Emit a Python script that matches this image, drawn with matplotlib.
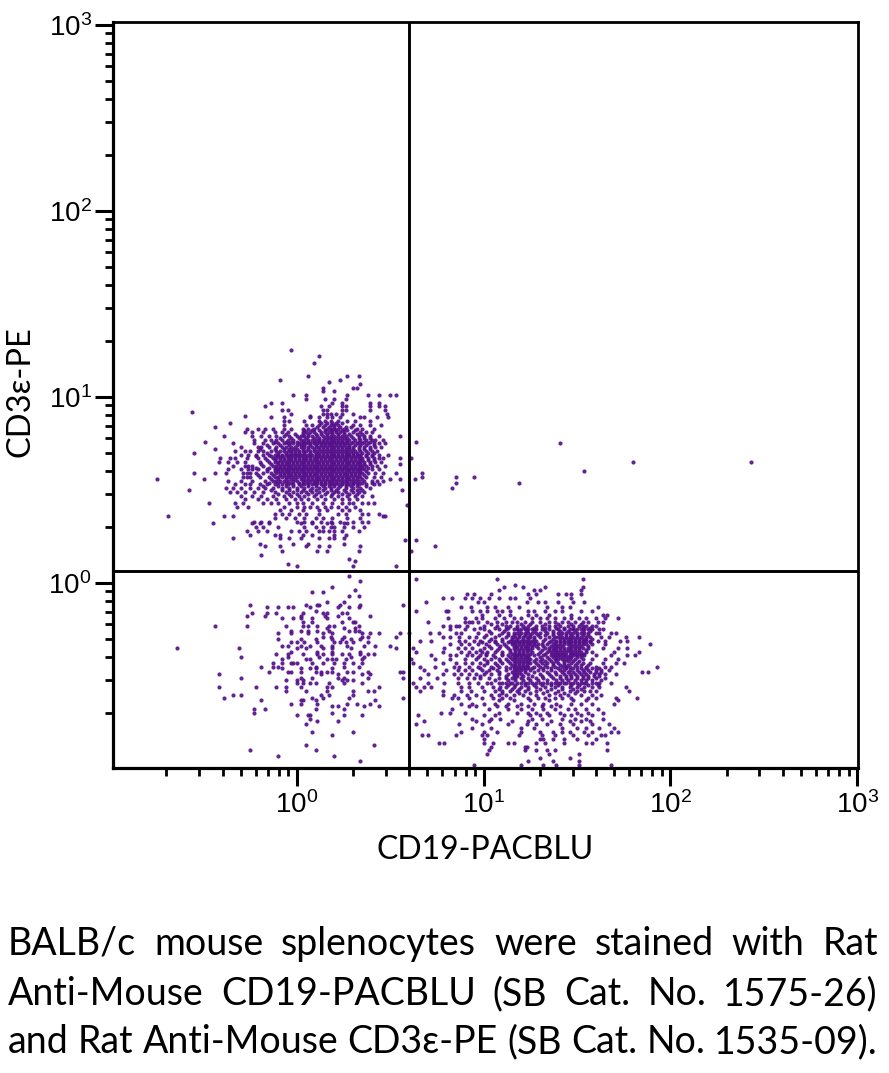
import matplotlib
matplotlib.use("Agg")
import matplotlib.pyplot as plt
from matplotlib.ticker import FixedLocator, NullFormatter

# All event values are in hundredths of a log10 decade: value = 10 ** (v / 100)
# Each row is {CD3e level: [CD19 levels]}
tcell_rows = {
125:[-3],122:[12],118:[9],111:[6,27,33],109:[-9,23],108:[17],107:[34],105:[14,30,32],103:[20,14],
101:[-2,5,27,38,44,50,53],99:[5,15,20,26],97:[-14,-8,19,24,39,44],95:[-17,13,17,24,26,39,44,47],
93:[-8,-5,14,16,24,26,39,47],92:[-56],91:[-3,14,16,18,21,24,30,48],90:[-28,7],
89:[-14,-7,7,12,16,19,23,34,36,43,49],87:[-7,-4,4,12,15,18,22,27,31,39],86:[-36],
85:[-7,5,8,12,15,18,20,22,30,34,39,45],84:[-44],
83:[-27,-21,-17,-13,-7,-3,3,6,9,16,18,20,22,25,32,35,41],
81:[-28,-24,-18,-12,-8,-5,3,5,7,9,13,15,17,19,21,23,25,30,34,37,40],
79:[-39,-24,-19,-15,-11,-7,-4,0,2,4,6,8,11,14,16,18,20,22,24,26,29,33,36,39,44,55],
77:[-23,-17,-14,-11,-8,-5,-2,2,4,6,8,10,12,14,16,18,20,22,24,26,28,31,34,37,40,42,46],
76:[-49,64],
75:[-34,-23,-18,-13,-10,-7,-5,-2,1,3,5,7,9,11,13,15,17,19,21,23,25,27,29,32,35,38,41,44,47],
73:[-30,-21,-19,-15,-11,-8,-6,-3,-1,2,4,6,8,10,12,14,16,18,20,22,24,26,28,30,33,36,39,42,45],
72:[-44],
71:[-33,-28,-25,-21,-18,-14,-11,-9,-7,-5,-3,-1,1,3,5,7,9,11,13,15,17,19,21,23,25,27,29,31,34,37,40,43],
70:[-55],
69:[-30,-26,-22,-18,-15,-12,-10,-8,-6,-4,-2,0,2,4,6,8,10,12,14,16,18,20,22,24,26,28,30,32,34,37,40,44,49],
67:[-41,-36,-33,-27,-21,-17,-13,-11,-9,-7,-5,-3,-1,1,3,5,7,9,11,13,15,17,19,21,23,25,27,29,31,33,35,38,41,44,46,55,61],
65:[-42,-37,-32,-28,-20,-15,-12,-10,-8,-6,-4,-2,0,2,4,6,8,10,12,14,16,18,20,22,24,26,28,30,32,34,36,39,42,45],
64:[55],
63:[-34,-28,-26,-24,-18,-13,-11,-9,-7,-5,-3,-1,1,3,5,7,9,11,13,15,17,19,21,23,25,27,29,31,33,35,37,40,43,47],
61:[-37,-30,-26,-24,-21,-16,-12,-10,-8,-6,-4,-2,0,2,4,6,8,10,12,14,16,18,20,22,24,26,28,30,32,34,36,40,44],
59:[-55,-44,-38,-29,-27,-25,-22,-18,-14,-11,-9,-7,-5,-3,-1,1,3,5,7,9,11,13,15,17,19,21,23,25,27,29,31,33,35,38,42,46,53],
57:[-29,-27,-25,-20,-15,-12,-10,-8,-6,-4,-2,0,2,4,6,8,10,12,14,16,18,20,22,24,26,28,30,32,34,37,41,45],
56:[-50,-75,50,55,63],
55:[-37,-30,-24,-17,-13,-11,-9,-7,-5,-2,0,3,5,7,9,11,13,15,17,19,21,23,25,27,29,31,33,36,40,43,46],
53:[-33,-28,-25,-20,-16,-12,-8,-5,-2,1,4,6,8,10,13,15,18,20,22,24,26,28,30,33,37,41,44],
51:[-38,-34,-30,-25,-21,-17,-13,-8,-4,0,4,8,12,15,18,22,26,30,34,39],
50:[-58,56],
49:[-36,-32,-28,-23,-18,-12,-6,-2,2,5,8,12,16,20,22,26,30,33,36],
47:[-30,-24,-19,-13,-7,-3,1,4,9,13,18,22,27,31,35,40],
45:[-28,-21,-16,-11,-6,-1,2,6,11,15,20,24,28,32],
43:[-47,-33,-29,-18,-14,-10,-4,0,3,8,14,19,24,28,30,35,38,41],
42:[59],
41:[-32,-26,-7,0,4,7,11,15,18,22,26,31],
39:[-9,-3,3,12,16,24,28,34],
37:[-12,-8,-4,1,5,12,22,26,35,38,44],
36:[-69,-39,-34,46,47],
35:[-12,-6,-1,4,10,14,19,27,34],
33:[-23,-19,-15,0,4,8,13,18,23,30,35,38],
32:[-45,-24,-20,-15,2,8,16,19,25,27],
30:[-22,-18,-10,4,10,14,18,20,25,30,36],
28:[-27,-21,-16,-3,1,5,12,14,17,20,24,33],
26:[-25,-12,-9,3,8,20,26],
24:[-34,-9,-4,2,12,17,20,25],
23:[58,64],21:[-20,-2,6,25],20:[-17,-9,5,12,17,34],17:[-8,11,16,33,61],15:[-19],13:[28],12:[31],10:[-5],
9:[0,30,53],4:[28],1:[34],
}
# the dense core of the CD3+ population, between the rows above
tcell_core_rows = {
86:[13,16,19,21,24],84:[11,14,17,20,23,26,29],82:[4,8,12,15,18,21,24,27,31],
80:[-6,-1,3,6,10,13,16,19,22,25,28,32,35],78:[-9,-3,1,5,9,12,15,17,19,21,23,25,27,30,33,36,39],
76:[-12,-6,-3,0,3,6,9,12,14,16,18,20,22,24,27,30,33,36,39],
74:[-16,-9,-4,0,2,4,7,10,13,15,17,19,21,23,25,28,31,34,37,41],
72:[-20,-12,-7,-4,-2,0,3,6,9,12,14,16,18,20,22,24,26,28,30,33,36,39],
70:[-16,-10,-6,-3,-1,1,4,7,10,12,14,16,18,20,22,24,26,28,30,32,35,38,41],
68:[-22,-14,-10,-8,-5,-3,-1,1,3,5,7,10,12,14,16,18,20,22,24,26,28,30,32,34,37,40],
66:[-16,-12,-9,-7,-5,-3,-1,1,3,5,7,9,11,13,15,17,19,21,23,25,27,29,31,33,35,38,41],
64:[-19,-14,-10,-8,-6,-4,-2,0,2,4,6,8,10,12,14,16,18,20,22,24,26,28,30,32,34,36,39],
62:[-22,-15,-11,-9,-7,-5,-3,-1,1,3,5,7,9,11,13,15,17,19,21,23,25,27,29,31,33,35,38],
60:[-16,-12,-10,-8,-6,-4,-2,0,2,4,6,8,10,12,14,16,18,20,22,24,26,28,30,32,34,37],
58:[-21,-13,-9,-7,-5,-3,-1,1,3,5,7,9,11,13,15,17,19,21,23,25,27,29,31,33,36],
56:[-14,-10,-6,-3,-1,2,4,6,8,10,12,14,16,18,20,22,24,26,28,30,32,35],
54:[-15,-10,-6,-3,1,3,6,9,11,13,15,17,19,21,24,27,30,32,35,40],
52:[-18,-10,-6,-2,2,6,10,14,17,20,23,26,29,32,37],
50:[-14,-8,-4,0,3,7,10,14,18,21,25,29,32,35],
48:[-10,-4,0,6,10,15,19,24,28,32],
}
bcell_rows = {
2:[64,107,153],-1:[117],-2:[19,111,121,133,153],-4:[31,108,127,130,152],-5:[8,14],
-6:[91,95,104,124,128,140,144,147,152],-7:[28,33],
-8:[78,83,90,94,98,103,108,114,117,125,147],
-10:[16,25,69,97,100,123,129,133,140,148,154],
-12:[-25,5,11,12,23,34,57],
-13:[-16,-10,-5,-2,7,22,28,33,88,93,102,106,113,119,134,142,146,161],
-15:[10,64,80,81,94,98,102,107,110,114,124,127,133,138,142,152,158],
-16:[-24,-16,-11,3,14,16,24,27],
-17:[99,108,114,124,128,135,147,164,166],
-18:[-27,-17,2,15,22,39],
-19:[-8,-2,2,8,16,28,81,90,96,99,106,111,116,120,126,130,134,138,143,147,151,155,160,165,172],
-21:[3,8,24,30,31,70,90,92,94,97,102,107,112,115,118,122,126,130,135,138,142,145,149,153,156,161,164],
-23:[-44,-27,-6,3,6,11,17,20,33,78,82,85,87,91,100,107,112,114,118,121,124,128,131,135,138,141,145,148,151,153,155,158,160],
-24:[16,25,31],
-25:[82,90,95,100,108,112,116,118,120,122,124,126,128,131,135,140,143,146,148,150,152,154,156,158,162,164],
-26:[-3,2,6,11,17,28,31,33],
-27:[-10,-3,6,14,19,35,39,44,55,60,71,76,85,88,97,104,110,113,116,118,120,122,124,126,128,130,134,137,140,142,144,146,148,150,152,154,156,160,162,168,171],
-29:[14,18,25,35,38,53,78,82,87,92,96,100,106,112,115,117,119,121,123,125,127,130,135,138,140,142,144,146,148,150,152,155,157,163,167,176,183],
-30:[-10,2,10,24,19,29,34],
-31:[66,72,87,90,95,98,103,106,110,114,116,118,120,122,124,126,128,132,136,139,141,143,145,147,149,151,153,155,157,161,165,173,177],
-32:[-3,0,4,11,20,23,26,30,38],
-33:[82,88,92,97,101,107,111,115,117,119,121,123,125,127,129,131,134,137,139,141,143,145,147,149,151,153,155,158,165,189],
-34:[-8,-5,2,7,13,19,27,36,42,50],
-35:[-64,-31,0,5,14,19,29,53,62,79,86,90,94,100,104,108,113,116,118,120,122,124,126,129,133,135,137,139,141,143,145,147,149,151,153,156,164,172,177],
-37:[-3,11,19,34,64,78,88,92,96,99,102,106,110,114,117,119,121,123,126,130,134,136,138,140,142,144,146,148,150,152,155,158,170,183],
-38:[-11,-5,3,11,14,19,24,28,34,38,41],
-39:[72,82,85,91,94,98,101,105,110,113,116,118,120,122,124,127,132,136,138,140,142,144,146,148,150,152,154,160,168,177,181],
-40:[-30,-5,12,29,36],
-41:[-8,5,7,16,19,21,26,35,61,74,82,90,96,100,104,108,112,115,117,119,121,123,125,128,131,135,138,140,142,144,146,149,153,158,165,172],
-43:[-13,-8,-3,-2,0,8,14,20,25,30,35,62,78,85,90,94,98,102,106,110,114,117,119,121,123,125,128,131,134,137,140,143,147,150,153,157,164,171,175],
-45:[-19,-13,-10,10,25,33,66,74,84,87,92,97,104,108,112,116,118,120,122,124,127,130,134,138,142,144,146,150,155,160,165,168,193],
-46:[-8,2,7,10,19],
-47:[68,80,86,90,94,99,103,107,112,116,118,120,122,125,129,132,136,141,143,146,150,153,156,160,163,167],
-48:[-15,-5,-3,2,10,13,16,19,27,30,38,55,57,185,188],
-49:[-42,13,22,35,39,70,78,84,88,92,96,100,104,108,113,116,118,120,124,130,135,139,143,146,149,152,155,159,162,165,171],
-51:[-30,2,8,22,25,38,57,66,75,86,91,95,98,103,108,112,115,117,120,124,128,132,137,141,144,147,150,153,156,160,165],
-52:[-6,0,3,24,27,30],
-54:[0,3,7,10,17,25,35,62,70,79,86,92,97,102,108,112,115,118,122,126,130,134,138,141,144,148,152,155,158,162,168],
-56:[-42,-22,-11,-6,2,16,19,44,64,68,72,88,92,99,105,109,112,116,120,124,128,133,138,142,146,150,154,158,162,176],
-58:[-6,5,16,30,38,41,66,78,88,93,100,106,110,114,118,122,128,134,140,146,150,154,157,160,178],
-60:[-34,-30,13,17,30,78,84,91,96,104,108,112,116,121,128,135,141,145,152,158,163],
-62:[-39,8,14,28,57,83,86,92,99,105,110,114,124,129,133,138,142,147,156,160,171,182],
-63:[-19,2,3,10,42,108,116,125,135,148,155,172],
-65:[-3,2,11,27,32,39,88,94,100,106,113,120,127,132,139,147,152,158,170],
-66:[19,22,36,44,92,96,107,112,118,124,131,136,141],
-68:[-23,-17,10,25,83,103,113,120,126,132,138,145,149,155,161],
-70:[-23,19,77,82,90,108,118,124,128,134,141,150,156,164],
-71:[0,6,7,25,35,65,100,106,125,130,135,143,147,152,158],
-73:[7,94,104,109,126,131,142,149,155,164],
-74:[11,22,68,96,103,115,124,136,146,152,157],
-76:[5,64,87,99,113,123,128,134,141,148,158,167],
-78:[94,104,120,127,142,150,155,162,170],
-80:[8,30,88,100,107,120,130,137,142,146,154,158,168,172],
-82:[19,67,70,85,99,102,119,131,138,148,156,165,163],
-84:[100,130,132,137,143,150,160],
-86:[76,79,100,105,113,116,128,133,143,155,158,166],
-87:[5,41],
-88:[104,122,123],
-90:[-25,10,103,122,128,134,138,166],
-92:[102,135,151],
-93:[-10,20],
-94:[130,146],
-96:[34,124,137,151],
-98:[95,120,132,139,151,168],
}
# the dense core of the CD19+ population, between the rows above
bcell_core_rows = {
-22:[104,110,120,125,133,140,147,152],
-24:[98,106,113,118,122,127,133,139,143,148,153,157],
-26:[103,111,119,123,127,133,137,141,145,149,153,157],
-28:[101,108,113,116,119,122,125,129,133,137,141,144,147,150,153,156],
-30:[104,110,115,118,121,124,127,133,137,141,143,145,147,149,151,153,155,158],
-32:[99,106,113,115,117,119,121,123,125,127,135,138,141,143,145,147,149,151,153,157],
-34:[103,109,112,116,118,120,122,124,126,128,132,136,138,140,142,146,148,150,152,156],
-36:[98,107,114,117,119,121,123,125,131,135,137,139,141,143,145,147,149,151,155],
-38:[101,110,115,117,119,121,125,129,133,137,139,141,143,147,149,151,153],
-40:[97,106,114,116,118,120,122,124,130,134,137,139,141,143,145,147,150,152],
-42:[102,109,113,116,118,120,122,124,127,130,133,136,139,143,145,148,151],
-44:[100,107,115,117,119,121,123,129,133,137,141,143,145,149,152,156],
-46:[98,105,114,117,119,121,123,126,132,136,140,144,148,152,155,158,162],
-48:[101,108,115,117,119,122,127,134,138,142,145,148,151,154,157,160,163],
-50:[98,112,116,118,121,126,131,136,141,144,147,150,153,156,159,162],
-52:[106,113,117,121,125,129,134,139,142,145,149,152,155,158,163],
-54:[104,110,114,120,124,128,132,136,140,143,146,150,154,160],
-55:[113,117,122,127,131,136,140,147,151,156,161],
-57:[108,115,119,124,130,136,142,148,152],
-59:[110,119,125,132,138,143,149],
}
# events around the gate crossing and in the upper right quadrant
upper_right_x = [67,67,85,85,83,95,119,74,141,154,180,243]
upper_right_y = [59,57,57,54,51,57,54,20,75,60,65,65]

x_gate = 3.98
y_gate = 1.16
x_label = "CD19-PACBLU"
y_label = "CD3\u03b5-PE"
caption = [
    "BALB/c mouse splenocytes were stained with Rat",
    "Anti-Mouse CD19-PACBLU (SB Cat. No. 1575-26)",
    "and Rat Anti-Mouse CD3\u03b5-PE (SB Cat. No. 1535-09).",
]
major_ticks = [1, 10, 100, 1000]
major_labels = ["$\\mathregular{10^{0}}$", "$\\mathregular{10^{1}}$", "$\\mathregular{10^{2}}$", "$\\mathregular{10^{3}}$"]

plt.rcParams["font.family"] = ["Liberation Sans", "DejaVu Sans"]
plt.rcParams["mathtext.fontset"] = "custom"
plt.rcParams["mathtext.rm"] = "Liberation Sans"
plt.rcParams["mathtext.default"] = "rm"

W, H = 889, 1073
fig = plt.figure(figsize=(W / 100, H / 100), dpi=100)
ax = fig.add_axes([112.5 / W, 1 - 768 / H, (858 - 112.5) / W, (768 - 22) / H])

xs, ys = [], []
for rows in (tcell_rows, tcell_core_rows, bcell_rows, bcell_core_rows):
    for yv, xv in rows.items():
        xs += list(xv)
        ys += [yv] * len(xv)
xs += upper_right_x
ys += upper_right_y
ax.scatter([10 ** (v / 100) for v in xs], [10 ** (v / 100) for v in ys], s=9,
           color="#55108a", alpha=0.92, linewidths=0, zorder=2)

ax.set_xscale("log")
ax.set_yscale("log")
ax.set_xlim(10 ** -0.988, 10 ** 3.005)
ax.set_ylim(10 ** -0.995, 10 ** 3.016)
ax.axvline(x_gate, color="black", lw=2.1, zorder=3)
ax.axhline(y_gate, color="black", lw=2.1, zorder=3)

minor = [m * 10 ** e for e in (-1, 0, 1, 2) for m in range(2, 10)]
for axis in (ax.xaxis, ax.yaxis):
    axis.set_major_locator(FixedLocator(major_ticks))
    axis.set_major_formatter(plt.FixedFormatter(major_labels))
    axis.set_minor_locator(FixedLocator(minor))
    axis.set_minor_formatter(NullFormatter())
ax.tick_params(which="major", length=13, width=2.2, labelsize=20, pad=2)
ax.tick_params(which="minor", length=6, width=2.0)
ax.tick_params(axis="x", which="major", pad=4)
for s in ("left", "bottom"):
    ax.spines[s].set_linewidth(2.3)
for s in ("right", "top"):
    ax.spines[s].set_linewidth(2.0)

fig.text(485 / W, 1 - 850 / H, x_label, ha="center", va="center", fontsize=23, family="Lato")
fig.text(21 / W, 1 - 392 / H, y_label, ha="center", va="center", rotation=90,
         fontsize=23.5, family=["Lato", "DejaVu Sans"])

# justified caption
fig.canvas.draw()
r = fig.canvas.get_renderer()
baselines = [955, 1005, 1053]
for line, by in zip(caption, baselines):
    words = line.split(" ")
    items = [fig.text(0, 1 - by / H, w, fontsize=27, family=["Lato", "DejaVu Sans"], va="baseline") for w in words]
    widths = [t.get_window_extent(r).width for t in items]
    gap = (878 - 8 - sum(widths)) / (len(words) - 1)
    x = 8
    for t, w in zip(items, widths):
        t.set_x(x / W)
        x += w + gap

fig.savefig("out.png", dpi=100)
